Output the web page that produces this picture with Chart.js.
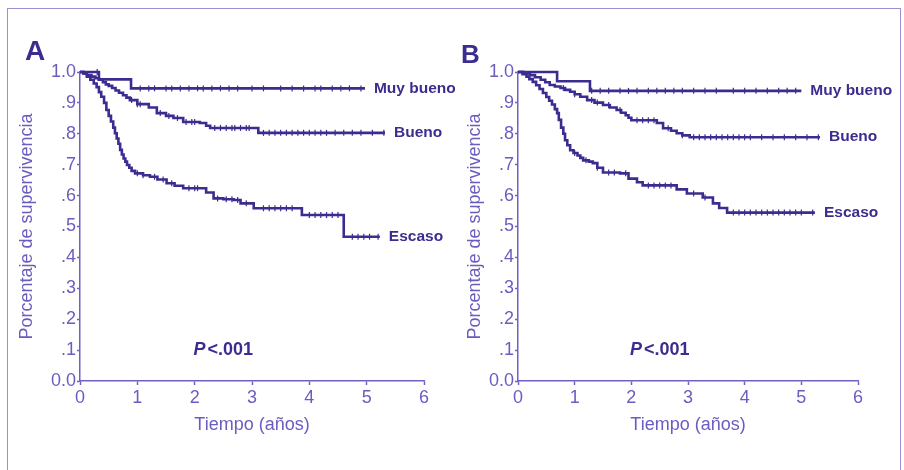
<!DOCTYPE html>
<html>
<head>
<meta charset="utf-8">
<script src="https://cdn.jsdelivr.net/npm/chart.js@4.4.1/dist/chart.umd.min.js"></script>
<style>
body { margin: 0; background: #fff; width: 904px; height: 470px; overflow: hidden; position: relative; font-family: "Liberation Sans", Arial, sans-serif; }
#frame { position: absolute; left: 7px; top: 8px; width: 894px; height: 480px; border: 1.5px solid #9b90d6; box-sizing: border-box; }
.panel { position: absolute; top: 0; height: 470px; }
.tag { position: absolute; font-weight: bold; color: #3b2d8f; line-height: 1; }
</style>
</head>
<body>
<div id="frame"></div>
<div class="panel" style="left:0;width:462px"><canvas id="a" width="462" height="470"></canvas></div>
<div class="panel" style="left:452px;width:452px"><canvas id="b" width="452" height="470"></canvas></div>
<div class="tag" style="left:25px;top:37px;font-size:28px">A</div>
<div class="tag" style="left:461px;top:41px;font-size:26px">B</div>
<script>
// Tick labels
const xTicks = [0, 1, 2, 3, 4, 5, 6];
const yTicks = [0, .1, .2, .3, .4, .5, .6, .7, .8, .9, 1];
const yLabels = ["0.0", ".1", ".2", ".3", ".4", ".5", ".6", ".7", ".8", ".9", "1.0"];
const groups = ["Muy bueno", "Bueno", "Escaso"];
const pText = "P<.001";

// Panel A - step times (years) and survival after each step, censor times
const aMuyT = [0, 0.33, 0.89, 4.97];
const aMuyS = [1, 0.976, 0.947, 0.947];
const aMuyC = [0.3, 1.05, 1.2, 1.3, 1.5, 1.6, 1.75, 1.9, 2.05, 2.15, 2.3, 2.45, 2.6, 2.75, 3.0, 3.2, 3.5, 3.7, 3.9, 4.1, 4.2, 4.4, 4.55, 4.7, 4.9];

const aBueT = [0, 0.06, 0.12, 0.2, 0.27, 0.33, 0.4, 0.45, 0.5, 0.56, 0.62, 0.68, 0.75, 0.81, 0.87, 1.0, 1.2, 1.34, 1.5, 1.63, 1.8, 2.09, 2.2, 2.27, 3.11, 5.32];
const aBueS = [1, 0.995, 0.99, 0.985, 0.98, 0.975, 0.967, 0.96, 0.955, 0.948, 0.94, 0.933, 0.925, 0.917, 0.909, 0.896, 0.885, 0.867, 0.858, 0.851, 0.838, 0.835, 0.826, 0.819, 0.803, 0.803];
const aBueC = [0.9, 1.0, 1.05, 1.4, 1.55, 1.7, 1.85, 1.95, 2.0, 2.35, 2.45, 2.55, 2.65, 2.7, 2.8, 2.9, 2.95, 3.2, 3.3, 3.4, 3.5, 3.6, 3.7, 3.8, 3.9, 4.0, 4.1, 4.2, 4.3, 4.45, 4.6, 4.75, 4.9, 5.1, 5.3];

const aEscT = [0, 0.06, 0.12, 0.18, 0.24, 0.29, 0.33, 0.37, 0.42, 0.46, 0.5, 0.54, 0.58, 0.61, 0.64, 0.67, 0.7, 0.73, 0.76, 0.79, 0.82, 0.86, 0.9, 0.96, 1.1, 1.22, 1.35, 1.51, 1.65, 1.8, 2.2, 2.33, 2.5, 2.68, 2.8, 3.03, 3.87, 4.6, 5.23];
const aEscS = [1, 0.995, 0.985, 0.975, 0.963, 0.951, 0.935, 0.92, 0.9, 0.877, 0.858, 0.84, 0.82, 0.802, 0.785, 0.768, 0.748, 0.733, 0.72, 0.71, 0.699, 0.69, 0.68, 0.672, 0.666, 0.661, 0.652, 0.64, 0.632, 0.624, 0.61, 0.591, 0.588, 0.586, 0.575, 0.559, 0.537, 0.467, 0.467];
const aEscC = [1.0, 1.1, 1.3, 1.45, 1.6, 1.9, 2.0, 2.05, 2.4, 2.55, 2.65, 2.75, 2.9, 3.2, 3.3, 3.4, 3.5, 3.6, 3.7, 4.0, 4.1, 4.2, 4.3, 4.4, 4.5, 4.75, 4.85, 4.95, 5.05, 5.2];

// Panel B
const bMuyT = [0, 0.69, 1.27, 5.0];
const bMuyS = [1, 0.97, 0.939, 0.939];
const bMuyC = [1.3, 1.45, 1.6, 1.8, 1.95, 2.1, 2.3, 2.45, 2.6, 2.75, 2.9, 3.1, 3.3, 3.5, 3.8, 4.0, 4.2, 4.4, 4.6, 4.75, 4.9];

const bBueT = [0, 0.1, 0.21, 0.3, 0.4, 0.48, 0.56, 0.65, 0.75, 0.83, 0.92, 1.0, 1.1, 1.22, 1.35, 1.5, 1.62, 1.74, 1.82, 1.9, 1.95, 2.0, 2.45, 2.56, 2.7, 2.8, 2.9, 3.03, 5.33];
const bBueS = [1, 0.995, 0.99, 0.983, 0.975, 0.967, 0.958, 0.953, 0.948, 0.942, 0.936, 0.928, 0.92, 0.909, 0.901, 0.893, 0.885, 0.877, 0.868, 0.86, 0.852, 0.844, 0.835, 0.818, 0.81, 0.802, 0.795, 0.789, 0.789];
const bBueC = [0.8, 1.0, 1.3, 1.4, 1.6, 1.8, 2.1, 2.2, 2.3, 2.4, 2.65, 2.9, 3.1, 3.2, 3.3, 3.4, 3.5, 3.6, 3.7, 3.8, 3.9, 4.0, 4.1, 4.3, 4.5, 4.7, 4.9, 5.1, 5.3];

const bEscT = [0, 0.08, 0.15, 0.2, 0.26, 0.32, 0.38, 0.44, 0.5, 0.55, 0.6, 0.65, 0.69, 0.72, 0.76, 0.8, 0.83, 0.87, 0.92, 0.98, 1.05, 1.1, 1.15, 1.25, 1.32, 1.4, 1.5, 1.8, 1.95, 2.1, 2.2, 2.8, 2.98, 3.26, 3.44, 3.55, 3.69, 5.24];
const bEscS = [1, 0.993, 0.985, 0.977, 0.968, 0.957, 0.945, 0.932, 0.919, 0.907, 0.895, 0.88, 0.867, 0.845, 0.82, 0.8, 0.779, 0.763, 0.747, 0.738, 0.73, 0.722, 0.714, 0.71, 0.705, 0.69, 0.675, 0.672, 0.655, 0.643, 0.633, 0.62, 0.607, 0.594, 0.575, 0.56, 0.545, 0.545];
const bEscC = [1.0, 1.2, 1.4, 1.6, 1.7, 1.9, 2.3, 2.4, 2.5, 2.6, 2.7, 3.1, 3.3, 3.8, 3.9, 4.0, 4.1, 4.2, 4.3, 4.4, 4.5, 4.6, 4.7, 4.8, 4.9, 5.0, 5.2];

const curveColor = "#3b2d8f";
const axisColor = "#6e61c2";
const textColor = "#6a5dc0";
const font = "'Liberation Sans', Arial, sans-serif";

// survival value at time t from a step curve
function stepAt(times, surv, t) {
    let v = surv[0];
    for (let i = 0; i < times.length; i++) {
        if (times[i] <= t) v = surv[i];
    }
    return v;
}

function curve(times, surv, censor, name) {
    return [
        {
            label: name,
            data: times.map((t, i) => ({x: t, y: surv[i]})),
            showLine: true,
            borderColor: curveColor,
            borderWidth: 2.6,
            stepped: true,
            pointRadius: 0,
            clip: false,
            endLabel: true
        },
        {
            label: name + " censor",
            data: censor.map(t => ({x: t, y: stepAt(times, surv, t)})),
            showLine: false,
            pointStyle: "line",
            rotation: 90,
            pointRadius: 3,
            pointBorderWidth: 1.2,
            pointBorderColor: curveColor,
            clip: false
        }
    ];
}

const labelPlugin = {
    id: "labels",
    afterDatasetsDraw(chart) {
        const ctx = chart.ctx;
        ctx.save();
        ctx.fillStyle = curveColor;
        ctx.textBaseline = "middle";
        ctx.font = "bold 15.5px " + font;
        chart.data.datasets.forEach((ds, i) => {
            if (!ds.endLabel) return;
            const pts = chart.getDatasetMeta(i).data;
            const p = pts[pts.length - 1];
            ctx.fillText(ds.label, p.x + 9, p.y);
        });
        // P value
        const xs = chart.scales.x, ys = chart.scales.y;
        const cx = xs.getPixelForValue(2.5), cy = ys.getPixelForValue(0.1);
        ctx.font = "italic bold 18px " + font;
        const wP = ctx.measureText(pText[0]).width;
        ctx.font = "bold 18px " + font;
        const wR = ctx.measureText(pText.slice(1)).width;
        const x0 = cx - (wP + wR + 2) / 2;
        ctx.font = "italic bold 18px " + font;
        ctx.fillText(pText[0], x0, cy);
        ctx.font = "bold 18px " + font;
        ctx.fillText(pText.slice(1), x0 + wP + 2, cy);
        ctx.restore();
    }
};

function makeChart(id, datasets, yWidth, titlePad, rightPad) {
    return new Chart(document.querySelector(id).getContext("2d"), {
        type: "scatter",
        data: {datasets: datasets},
        options: {
            responsive: false,
            animation: false,
            events: [],
            layout: {padding: {top: 72, right: rightPad, bottom: 0, left: 0}},
            plugins: {legend: {display: false}, tooltip: {enabled: false}},
            scales: {
                x: {
                    type: "linear",
                    min: 0, max: 6,
                    afterBuildTicks: s => { s.ticks = xTicks.map(v => ({value: v})); },
                    afterFit: s => { s.height = 89; },
                    border: {color: axisColor, width: 1.5},
                    grid: {drawOnChartArea: false, tickLength: 4, tickColor: axisColor, tickWidth: 1.5},
                    ticks: {color: textColor, padding: 2, font: {family: font, size: 18}, maxRotation: 0},
                    title: {display: true, text: "Tiempo (años)", color: textColor, font: {family: font, size: 18}, padding: {top: 0, bottom: 34}}
                },
                y: {
                    type: "linear",
                    min: 0, max: 1,
                    afterBuildTicks: s => { s.ticks = yTicks.map(v => ({value: v})); },
                    afterFit: s => { s.width = yWidth; },
                    border: {color: axisColor, width: 1.5},
                    grid: {drawOnChartArea: false, tickLength: 3, tickColor: axisColor, tickWidth: 1.5},
                    ticks: {
                        color: textColor, padding: 1, font: {family: font, size: 18},
                        callback: (v, i) => yLabels[yTicks.indexOf(v)]
                    },
                    title: {display: true, text: "Porcentaje de supervivencia", color: textColor, font: {family: font, size: 18}, padding: {top: titlePad, bottom: 0}}
                }
            }
        },
        plugins: [labelPlugin]
    });
}

makeChart("#a", [
    ...curve(aMuyT, aMuyS, aMuyC, groups[0]),
    ...curve(aBueT, aBueS, aBueC, groups[1]),
    ...curve(aEscT, aEscS, aEscC, groups[2])
], 80, 16, 38);

makeChart("#b", [
    ...curve(bMuyT, bMuyS, bMuyC, groups[0]),
    ...curve(bBueT, bBueS, bBueC, groups[1]),
    ...curve(bEscT, bEscS, bEscC, groups[2])
], 66, 12, 46);
</script>
</body>
</html>
